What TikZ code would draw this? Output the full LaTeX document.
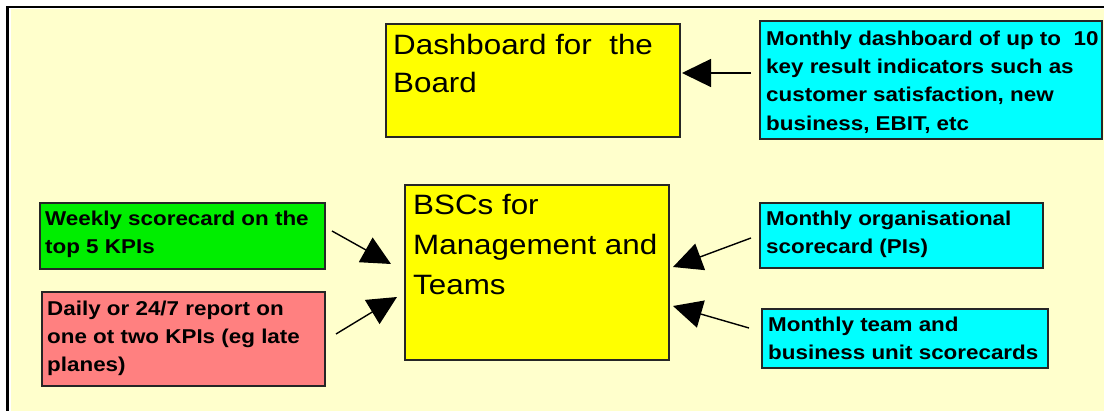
\documentclass[tikz,border=0pt]{standalone}
\usepackage{fontspec}
\setmainfont{Liberation Sans}[FakeStretch=1.12]
\usetikzlibrary{arrows.meta}
\definecolor{bgy}{HTML}{FFFFCC}
\definecolor{boxy}{HTML}{FFFF00}
\definecolor{boxc}{HTML}{00FFFF}
\definecolor{boxg}{HTML}{00EE00}
\definecolor{boxr}{HTML}{FF8080}
\tikzset{
  box/.style={draw=black!85, line width=1.3pt},
  big/.style={anchor=north west, inner sep=0pt, align=left, font=\fontsize{28}{38}\selectfont},
  small/.style={anchor=north west, inner sep=0pt, align=left, font=\fontsize{20}{28.3}\selectfont\bfseries},
  arr/.style={line width=1.4pt, -{Triangle[length=29pt,width=28pt]}},
}
\begin{document}
\begin{tikzpicture}[x=1pt,y=-1pt]
\useasboundingbox (0,0) rectangle (1104,411);
\fill[white] (0,0) rectangle (1104,411);
\fill[bgy] (10.5,9.5) rectangle (1104,411);
\draw[line width=2.6pt] (7.5,411) -- (7.5,7) -- (1104,7);
% boxes
\draw[box, fill=boxy] (386,24) rectangle (680,137);
\node[big] (dash) at (393,34.5) {Dashboard for\ \ the\\Board};
\coordinate (dashR) at (682,73);
\draw[box, fill=boxc] (760,21) rectangle (1102,139);
\node[small] (mdash) at (766,30.5) {Monthly dashboard of up to\ \ 10\\key result indicators such as\\customer satisfaction, new\\business, EBIT, etc};
\coordinate (mdashL) at (751,73);

\draw[box, fill=boxy] (405,185) rectangle (669,360);
\node[big, font=\fontsize{28}{40}\selectfont] (bsc) at (413,194) {BSCs for\\Management and\\Teams};

\draw[box, fill=boxg] (40,203) rectangle (325,269);
\node[small] (week) at (45,210.5) {Weekly scorecard on the\\top 5 KPIs};
\draw[box, fill=boxr] (42,292) rectangle (325,386);
\node[small] (daily) at (47,300.5) {Daily or 24/7 report on\\one ot two KPIs (eg late\\planes)};

\draw[box, fill=boxc] (760,203) rectangle (1043,268);
\node[small] (org) at (766,210.5) {Monthly organisational\\scorecard (PIs)};
\draw[box, fill=boxc] (762,309) rectangle (1048,368);
\node[small] (team) at (768,316.5) {Monthly team and\\business unit scorecards};

% arrows
\coordinate (w1) at (332,231); \coordinate (w2) at (391,264);
\coordinate (d1) at (336,334); \coordinate (d2) at (397,297);
\coordinate (o1) at (751,238); \coordinate (o2) at (673,267);
\coordinate (t1) at (749,328); \coordinate (t2) at (673,306);
\draw[arr] (mdashL) -- (dashR);
\draw[arr] (w1) -- (w2);
\draw[arr] (d1) -- (d2);
\draw[arr] (o1) -- (o2);
\draw[arr] (t1) -- (t2);
\end{tikzpicture}
\end{document}
